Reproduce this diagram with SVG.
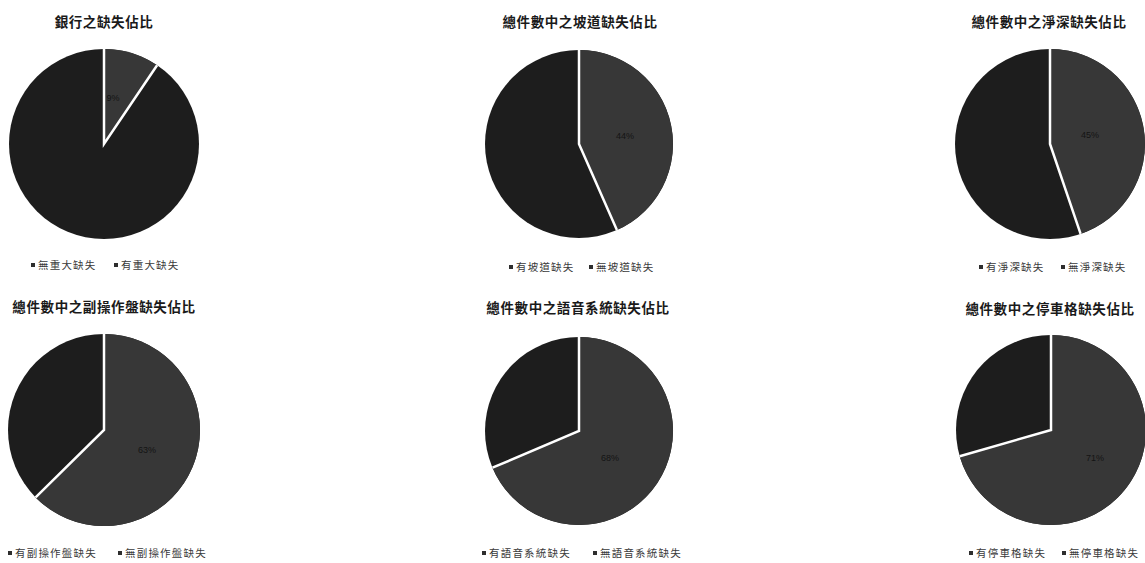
<svg xmlns="http://www.w3.org/2000/svg" width="1145" height="563" viewBox="0 0 1145 563">
<style>
.bg{fill:#ffffff}
.dark{fill:#1d1d1d}
.light{fill:#373737}
.sep{stroke:#ffffff;stroke-width:2.5;fill:none;stroke-linecap:butt}
.title{font-family:"Noto Sans CJK TC","Noto Sans CJK SC",sans-serif;font-size:13.5px;font-weight:bold;fill:#1a1a1a;text-anchor:middle;letter-spacing:0.6px}
.leg{font-family:"Noto Sans CJK TC","Noto Sans CJK SC",sans-serif;font-size:10.5px;fill:#3a3a3a;letter-spacing:1.2px}
.mk{fill:#2e2e2e}
.pct{font-family:"Liberation Sans",Arial,sans-serif;font-size:9px;fill:#141414;text-anchor:middle}
</style>
<rect class="bg" x="0" y="0" width="1145" height="563"/>

<g id="chart1">
<text class="title" x="104" y="27">銀行之缺失佔比</text>
<circle class="dark" cx="104" cy="144" r="95"/>
<path class="light" d="M104,144 L104,49 A95,95 0 0 1 157.1,65.2 Z"/>
<path class="sep" d="M104,49 L104,144 L157.1,65.2"/>
<text class="pct" x="113" y="101">9%</text>
<rect class="mk" x="31" y="263" width="4" height="4"/>
<text class="leg" x="38" y="269">無重大缺失</text>
<rect class="mk" x="114" y="263" width="4" height="4"/>
<text class="leg" x="121" y="269">有重大缺失</text>
</g>

<g id="chart2">
<text class="title" x="580" y="27">總件數中之坡道缺失佔比</text>
<circle class="dark" cx="579" cy="144" r="94"/>
<path class="light" d="M579,144 L579,50 A94,94 0 0 1 616.9,230 Z"/>
<path class="sep" d="M579,50 L579,144 L616.9,230"/>
<text class="pct" x="625" y="139">44%</text>
<rect class="mk" x="509" y="265" width="4" height="4"/>
<text class="leg" x="516" y="271">有坡道缺失</text>
<rect class="mk" x="589" y="265" width="4" height="4"/>
<text class="leg" x="596" y="271">無坡道缺失</text>
</g>

<g id="chart3">
<text class="title" x="1049" y="27">總件數中之淨深缺失佔比</text>
<circle class="dark" cx="1050" cy="144" r="95"/>
<path class="light" d="M1050,144 L1050,49 A95,95 0 0 1 1080.6,233.9 Z"/>
<path class="sep" d="M1050,49 L1050,144 L1080.6,233.9"/>
<text class="pct" x="1090" y="138">45%</text>
<rect class="mk" x="979" y="265" width="4" height="4"/>
<text class="leg" x="986" y="271">有淨深缺失</text>
<rect class="mk" x="1061" y="265" width="4" height="4"/>
<text class="leg" x="1068" y="271">無淨深缺失</text>
</g>

<g id="chart4">
<text class="title" x="104" y="312">總件數中之副操作盤缺失佔比</text>
<circle class="dark" cx="104" cy="430" r="96"/>
<path class="light" d="M104,430 L104,334 A96,96 0 1 1 35.6,497.4 Z"/>
<path class="sep" d="M104,334 L104,430 L35.6,497.4"/>
<text class="pct" x="147" y="453">63%</text>
<rect class="mk" x="8" y="551" width="4" height="4"/>
<text class="leg" x="15" y="557">有副操作盤缺失</text>
<rect class="mk" x="118" y="551" width="4" height="4"/>
<text class="leg" x="125" y="557">無副操作盤缺失</text>
</g>

<g id="chart5">
<text class="title" x="578" y="313">總件數中之語音系統缺失佔比</text>
<circle class="dark" cx="579" cy="431" r="94"/>
<path class="light" d="M579,431 L579,337 A94,94 0 1 1 492.5,467.7 Z"/>
<path class="sep" d="M579,337 L579,431 L492.5,467.7"/>
<text class="pct" x="610" y="461">68%</text>
<rect class="mk" x="482" y="551" width="4" height="4"/>
<text class="leg" x="489" y="557">有語音系統缺失</text>
<rect class="mk" x="593" y="551" width="4" height="4"/>
<text class="leg" x="600" y="557">無語音系統缺失</text>
</g>

<g id="chart6">
<text class="title" x="1050" y="314">總件數中之停車格缺失佔比</text>
<circle class="dark" cx="1051" cy="430" r="95"/>
<path class="light" d="M1051,430 L1051,335 A95,95 0 1 1 959.7,456.2 Z"/>
<path class="sep" d="M1051,335 L1051,430 L959.7,456.2"/>
<text class="pct" x="1095" y="461">71%</text>
<rect class="mk" x="969" y="551" width="4" height="4"/>
<text class="leg" x="976" y="557">有停車格缺失</text>
<rect class="mk" x="1062" y="551" width="4" height="4"/>
<text class="leg" x="1069" y="557">無停車格缺失</text>
</g>

<g id="connectors"></g>
</svg>
